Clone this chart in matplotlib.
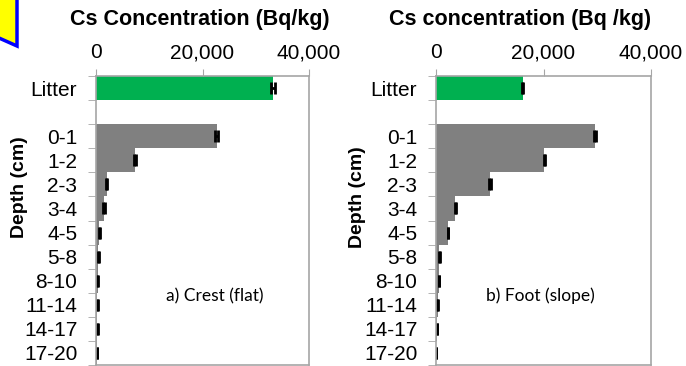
import matplotlib
matplotlib.use('Agg')
import matplotlib.pyplot as plt
from matplotlib.patches import Polygon
from matplotlib.ticker import FuncFormatter, FixedLocator

# layers: litter, spacer, then soil depth slices (cm)
layers = ['Litter', '', '0-1', '1-2', '2-3', '3-4', '4-5', '5-8', '8-10', '11-14', '14-17', '17-20']

# a) Crest (flat)
crest_vals = [33200, 0, 22700, 7300, 2050, 1500, 620, 430, 320, 250, 250, 130]
crest_err = [350, 0, 300, 150, 100, 100, 60, 60, 50, 40, 40, 30]
# b) Foot (slope)
foot_vals = [16100, 0, 29600, 20150, 10050, 3600, 2230, 620, 560, 310, 130, 60]
foot_err = [100, 0, 120, 100, 100, 100, 80, 60, 60, 40, 30, 20]

plt.rcParams['font.family'] = ['Liberation Sans', 'DejaVu Sans']

W, H = 686, 366
fig = plt.figure(figsize=(W / 100, H / 100), dpi=100)

GREEN = '#00B050'
GREY = '#808080'
FRAME = '#A6A6A6'


def panel(left, right, vals, errs, title, title_x, ylabel_x, ylabel_y, note, note_x):
    ax = fig.add_axes([left / W, 1 - 365 / H, (right - left) / W, (365 - 76) / H])
    ypos = list(range(len(layers)))
    colors = [GREEN] + [GREY] * (len(layers) - 1)
    ax.barh(ypos, vals, height=1.0, color=colors, edgecolor='none')
    for y, v, e in zip(ypos, vals, errs):
        if layers[y] == '':
            continue
        ax.errorbar(v, y, xerr=e, fmt='none', ecolor='black', elinewidth=2,
                    capsize=4, capthick=2)
    ax.set_xlim(0, 40000)
    ax.set_ylim(len(layers) - 0.5, -0.5)
    ax.xaxis.tick_top()
    ax.set_xticks([0, 20000, 40000])
    ax.xaxis.set_major_formatter(FuncFormatter(lambda v, p: f'{int(v):,}'))
    ax.tick_params(axis='x', length=5, color=FRAME, labelsize=15, pad=5)
    ax.set_yticks(ypos)
    ax.set_yticklabels(layers)
    ax.yaxis.set_minor_locator(FixedLocator([i - 0.5 for i in range(len(layers) + 1)]))
    ax.tick_params(axis='y', which='major', length=0, labelsize=15, pad=13.5)
    ax.tick_params(axis='y', which='minor', length=6, color=FRAME)
    for s in ax.spines.values():
        s.set_color(FRAME)
        s.set_linewidth(1.2)
    fig.text(title_x / W, 1 - 20 / H, title, ha='center', va='center',
             fontsize=15.5, fontweight='bold')
    fig.text(ylabel_x / W, 1 - ylabel_y / H, 'Depth (cm)', ha='center', va='center',
             rotation=90, fontsize=14, fontweight='bold')
    fig.text(note_x / W, 1 - 296 / H, note, ha='center', va='center',
             fontsize=12.5, family=['Lato', 'DejaVu Sans'])
    return ax


panel(96, 309, crest_vals, crest_err, 'Cs Concentration (Bq/kg)', 200, 20, 187,
      'a) Crest (flat)', 215)
panel(436, 651, foot_vals, foot_err, 'Cs concentration (Bq /kg)', 520, 358, 197,
      'b) Foot (slope)', 540)

# fragment of a yellow callout shape at the top-left corner
pts = [(-10, -10), (17, -10), (17, 46), (-10, 34)]
fig.patches.append(Polygon([(x / W, 1 - y / H) for x, y in pts], closed=True,
                           transform=fig.transFigure, facecolor='#FFFF00',
                           edgecolor='#0000FF', linewidth=2.5))

fig.savefig('out.png', dpi=100)
